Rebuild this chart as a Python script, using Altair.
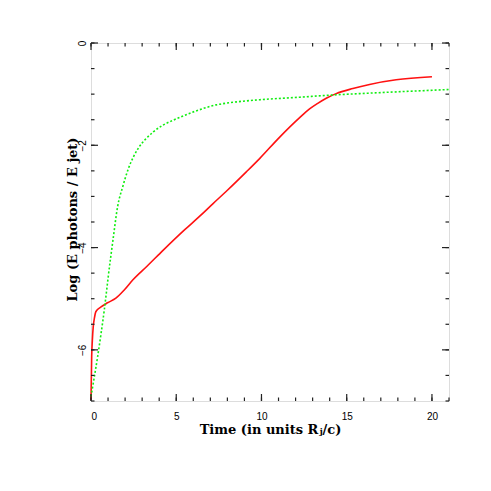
import altair as alt
import pandas as pd

# Red curve (solid)
red_t = [0.0, 0.04, 0.08, 0.13, 0.2, 0.29, 0.59, 0.97, 1.46, 1.95, 2.46, 3.3, 4.24, 5.5, 6.3, 7.16, 8.0, 9.11, 9.89, 11.07, 12.24, 12.82, 13.3, 13.8, 14.38, 15.36, 16.34, 17.9, 20.0]
red_v = [-6.98, -6.13, -5.81, -5.55, -5.38, -5.25, -5.16, -5.08, -4.99, -4.83, -4.63, -4.36, -4.05, -3.65, -3.41, -3.14, -2.88, -2.52, -2.26, -1.84, -1.46, -1.29, -1.18, -1.08, -0.99, -0.89, -0.81, -0.72, -0.66]

# Green curve (dotted)
green_t = [0.0, 0.2, 0.39, 0.59, 0.78, 0.92, 1.0, 1.29, 1.56, 1.87, 2.2, 2.5, 2.77, 3.2, 3.65, 4.2, 4.82, 6.07, 7.34, 8.33, 9.89, 12.24, 14.0, 16.34, 21.0]
green_v = [-6.91, -6.52, -6.13, -5.68, -5.22, -4.83, -4.6, -3.85, -3.2, -2.8, -2.45, -2.22, -2.06, -1.88, -1.74, -1.61, -1.51, -1.34, -1.21, -1.16, -1.11, -1.06, -1.02, -0.98, -0.91]

x_major = [0, 5, 10, 15, 20]
x_minor = list(range(0, 22))
y_major = [-6, -4, -2, 0]
y_minor = [v / 2 for v in range(-14, 1)]

W = 358
H = 358
MAJ = 7
MIN = 3.5

xs = alt.Scale(domain=[0, 21], nice=False, zero=False)
ys = alt.Scale(domain=[-7, 0], nice=False, zero=False)

red_df = pd.DataFrame({"t": red_t, "v": red_v})
green_df = pd.DataFrame({"t": green_t, "v": green_v})

x_axis = alt.Axis(values=x_major, ticks=False, domain=False, grid=False, labelPadding=10,
                  labelFont="Liberation Sans", labelFontSize=10, labelColor="black",
                  title="Time (in units R\u2C7C/c)", titleFont="DejaVu Serif", titleFontSize=13,
                  titleFontWeight="bold", titleColor="black", titleX=179, titleY=32,
                  titleBaseline="alphabetic", titleAlign="center")
y_axis = alt.Axis(values=y_major, ticks=False, domain=False, grid=False, labelPadding=4,
                  labelAngle=270, labelAlign="center", labelBaseline="bottom",
                  labelFont="Liberation Sans", labelFontSize=10, labelColor="black",
                  title="Log (E photons / E jet)", titleFont="DejaVu Serif", titleFontSize=13,
                  titleFontWeight="bold", titleColor="black", titleAngle=270, titleX=-15, titleY=176,
                  titleBaseline="alphabetic", titleAlign="center")

X = lambda: alt.X("t:Q", scale=xs, axis=x_axis)
Y = lambda: alt.Y("v:Q", scale=ys, axis=y_axis)

red = alt.Chart(red_df).mark_line(color="#ff1111", strokeWidth=1.6, interpolate="monotone").encode(
    x=X(), y=Y(), order="t:Q",
)
green = alt.Chart(green_df).mark_line(color="#11ee11", strokeWidth=1.6, strokeDash=[2, 2],
                                      interpolate="monotone").encode(
    x=X(), y=Y(), order="t:Q",
)

def xticks(vals, length):
    df = pd.DataFrame({"t": vals})
    bot = alt.Chart(df).mark_rule(color="#222", strokeWidth=1.2).encode(
        x=X(), y=alt.value(H), y2=alt.value(H - length))
    top = alt.Chart(df).mark_rule(color="#222", strokeWidth=1.2).encode(
        x=X(), y=alt.value(0), y2=alt.value(length))
    return [bot, top]

def yticks(vals, length):
    df = pd.DataFrame({"v": vals})
    left = alt.Chart(df).mark_rule(color="#222", strokeWidth=1.2).encode(
        y=Y(), x=alt.value(0), x2=alt.value(length))
    right = alt.Chart(df).mark_rule(color="#222", strokeWidth=1.2).encode(
        y=Y(), x=alt.value(W), x2=alt.value(W - length))
    return [left, right]

layers = [red, green] + xticks(x_minor, MIN) + xticks(x_major, MAJ) + yticks(y_minor, MIN) + yticks(y_major, MAJ)

chart = alt.layer(*layers).properties(
    width=W, height=H,
    autosize=alt.AutoSizeParams(type="none"),
    padding={"left": 83, "top": 35, "right": 30, "bottom": 60},
).configure_view(stroke="#222", strokeWidth=2).configure(background="white")

chart.save("out.html", embed_options={"renderer": "svg", "actions": False})
